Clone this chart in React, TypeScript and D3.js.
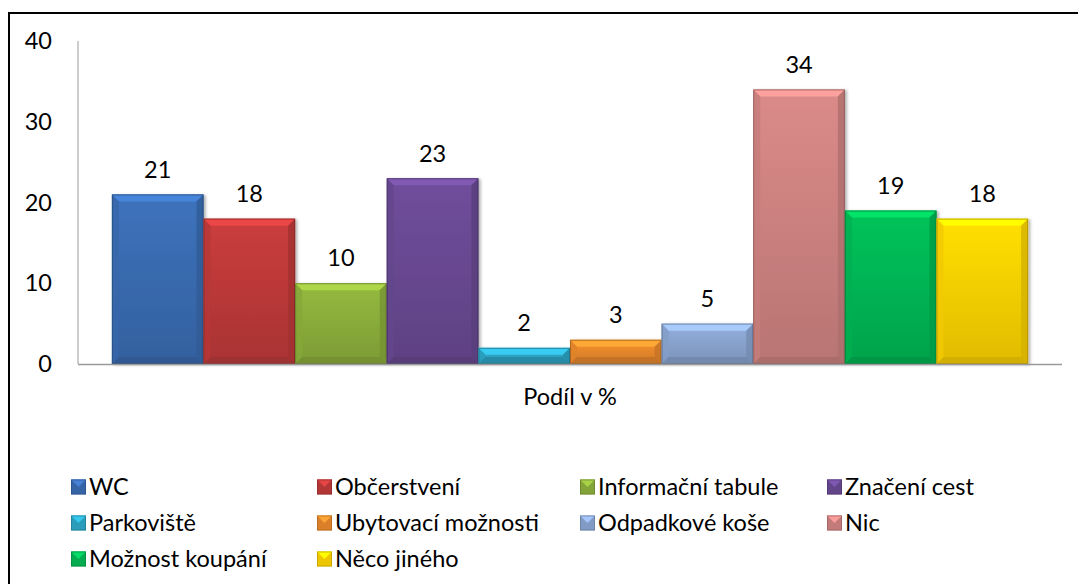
import * as d3 from 'd3';
import { useEffect, useRef } from 'react';

const categories = [
  'WC',
  'Občerstvení',
  'Informační tabule',
  'Značení cest',
  'Parkoviště',
  'Ubytovací možnosti',
  'Odpadkové koše',
  'Nic',
  'Možnost koupání',
  'Něco jiného',
];
const values = [21, 18, 10, 23, 2, 3, 5, 34, 19, 18];
const colors = [
  '#3a6db3', '#c03a3a', '#8db03c', '#6a4a94', '#2ea7c7',
  '#eb8a2c', '#8ba6d2', '#d08482', '#06b955', '#ffd400',
];
const yTicks = [0, 10, 20, 30, 40];
const axisTitle = 'Podíl v %';

const W = 1078;
const H = 584;
const FONT = 'Lato, "Open Sans", sans-serif';
const FS = '23.5px';

export default function App() {
  const ref = useRef<SVGSVGElement>(null);

  useEffect(() => {
    const svg = d3.select(ref.current);
    svg.selectAll('*').remove();

    const plotLeft = 78;
    const plotRight = 1062;
    const y = d3.scaleLinear().domain([0, 40]).range([364, 41]);
    const x = d3.scaleBand<number>()
      .domain([0])
      .range([plotLeft, plotRight])
      .paddingInner(0)
      .paddingOuter(0.037);
    const inner = d3.scaleBand<string>()
      .domain(categories)
      .range([0, x.bandwidth()])
      .padding(0);

    const defs = svg.append('defs');
    colors.forEach((c, i) => {
      const g = defs.append('linearGradient')
        .attr('id', `grad${i}`)
        .attr('x1', 0).attr('y1', 0).attr('x2', 0).attr('y2', 1);
      g.append('stop').attr('offset', '0%').attr('stop-color', d3.color(c)!.brighter(0.15).formatHex());
      g.append('stop').attr('offset', '100%').attr('stop-color', d3.color(c)!.darker(0.35).formatHex());
    });
    const shadow = defs.append('filter').attr('id', 'shadow')
      .attr('x', '-10%').attr('y', '-10%').attr('width', '130%').attr('height', '130%');
    shadow.append('feDropShadow')
      .attr('dx', 2).attr('dy', 1).attr('stdDeviation', 1.5)
      .attr('flood-color', '#000').attr('flood-opacity', 0.3);

    // frame (only top and left edges are visible)
    svg.append('rect')
      .attr('x', 9).attr('y', 13)
      .attr('width', W + 20).attr('height', H + 20)
      .attr('fill', 'white')
      .attr('stroke', '#000')
      .attr('stroke-width', 2);

    // y axis
    svg.append('line')
      .attr('x1', plotLeft).attr('x2', plotLeft)
      .attr('y1', y(40)).attr('y2', y(0))
      .attr('stroke', '#9a9a9a').attr('stroke-width', 1);
    svg.append('g').selectAll('text')
      .data(yTicks)
      .enter()
      .append('text')
      .attr('x', 52)
      .attr('y', (d) => y(d))
      .attr('dy', '0.35em')
      .attr('text-anchor', 'end')
      .style('font-family', FONT)
      .style('font-size', FS)
      .attr('fill', '#000')
      .text((d) => d);

    const x0 = x(0)!;
    const bevel = 7;

    const bars = svg.append('g').selectAll('g')
      .data(values)
      .enter()
      .append('g')
      .attr('filter', 'url(#shadow)');

    bars.each(function (v, i) {
      const g = d3.select(this);
      const bx = x0 + inner(categories[i])!;
      const bw = inner.bandwidth();
      const top = y(v);
      const bottom = y(0);
      const h = bottom - top;
      const b = Math.min(bevel, h / 2);
      const base = d3.color(colors[i])!;

      g.append('rect')
        .attr('x', bx).attr('y', top)
        .attr('width', bw).attr('height', h)
        .attr('fill', `url(#grad${i})`);
      // top bevel
      g.append('path')
        .attr('d', `M${bx},${top}L${bx + bw},${top}L${bx + bw - b},${top + b}L${bx + b},${top + b}Z`)
        .attr('fill', base.brighter(0.6).formatHex())
        .attr('opacity', 0.9);
      // left bevel
      g.append('path')
        .attr('d', `M${bx},${top}L${bx + b},${top + b}L${bx + b},${bottom - b}L${bx},${bottom}Z`)
        .attr('fill', base.darker(0.15).formatHex())
        .attr('opacity', 0.8);
      // right bevel
      g.append('path')
        .attr('d', `M${bx + bw},${top}L${bx + bw - b},${top + b}L${bx + bw - b},${bottom - b}L${bx + bw},${bottom}Z`)
        .attr('fill', base.darker(0.5).formatHex())
        .attr('opacity', 0.8);
      // bottom bevel
      g.append('path')
        .attr('d', `M${bx},${bottom}L${bx + b},${bottom - b}L${bx + bw - b},${bottom - b}L${bx + bw},${bottom}Z`)
        .attr('fill', base.darker(0.6).formatHex())
        .attr('opacity', 0.8);
      g.append('rect')
        .attr('x', bx + 0.5).attr('y', top + 0.5)
        .attr('width', bw - 1).attr('height', h - 1)
        .attr('fill', 'none')
        .attr('stroke', base.darker(1.2).formatHex())
        .attr('stroke-width', 1)
        .attr('opacity', 0.7);
    });

    // data labels
    svg.append('g').selectAll('text')
      .data(values)
      .enter()
      .append('text')
      .attr('x', (v, i) => x0 + inner(categories[i])! + inner.bandwidth() / 2)
      .attr('y', (v) => y(v) - 25)
      .attr('dy', '0.35em')
      .attr('text-anchor', 'middle')
      .style('font-family', FONT)
      .style('font-size', FS)
      .attr('fill', '#000')
      .text((v) => v);

    // x axis
    svg.append('line')
      .attr('x1', plotLeft).attr('x2', plotRight)
      .attr('y1', y(0) + 0.5).attr('y2', y(0) + 0.5)
      .attr('stroke', '#9a9a9a').attr('stroke-width', 1.5);
    svg.append('text')
      .attr('x', (plotLeft + plotRight) / 2)
      .attr('y', 397)
      .attr('dy', '0.35em')
      .attr('text-anchor', 'middle')
      .style('font-family', FONT)
      .style('font-size', FS)
      .text(axisTitle);

    // legend
    const colX = [71, 317, 580, 827];
    const rowY = [487, 523, 559];
    const sw = 15;
    const legend = svg.append('g').selectAll('g')
      .data(categories)
      .enter()
      .append('g')
      .attr('transform', (d, i) => `translate(${colX[i % 4]},${rowY[Math.floor(i / 4)]})`);
    legend.each(function (d, i) {
      const g = d3.select(this);
      const base = d3.color(colors[i])!;
      g.append('rect')
        .attr('x', 0).attr('y', -sw / 2)
        .attr('width', sw).attr('height', sw)
        .attr('fill', base.darker(0.2).formatHex());
      g.append('path')
        .attr('d', `M0,${-sw / 2}L${sw},${-sw / 2}L${sw / 2},${0}Z`)
        .attr('fill', base.brighter(0.5).formatHex());
      g.append('rect')
        .attr('x', 0.5).attr('y', -sw / 2 + 0.5)
        .attr('width', sw - 1).attr('height', sw - 1)
        .attr('fill', 'none')
        .attr('stroke', base.darker(1).formatHex())
        .attr('stroke-width', 1)
        .attr('opacity', 0.6);
      g.append('text')
        .attr('x', sw + 3)
        .attr('y', 0)
        .attr('dy', '0.35em')
        .style('font-family', FONT)
        .style('font-size', FS)
        .attr('fill', '#000')
        .text(d);
    });
  }, []);

  return (
    <svg
      ref={ref}
      width={W}
      height={H}
      style={{ position: 'absolute', left: 0, top: 0, display: 'block' }}
      role="img"
      aria-label="Podíl v %"
    />
  );
}
